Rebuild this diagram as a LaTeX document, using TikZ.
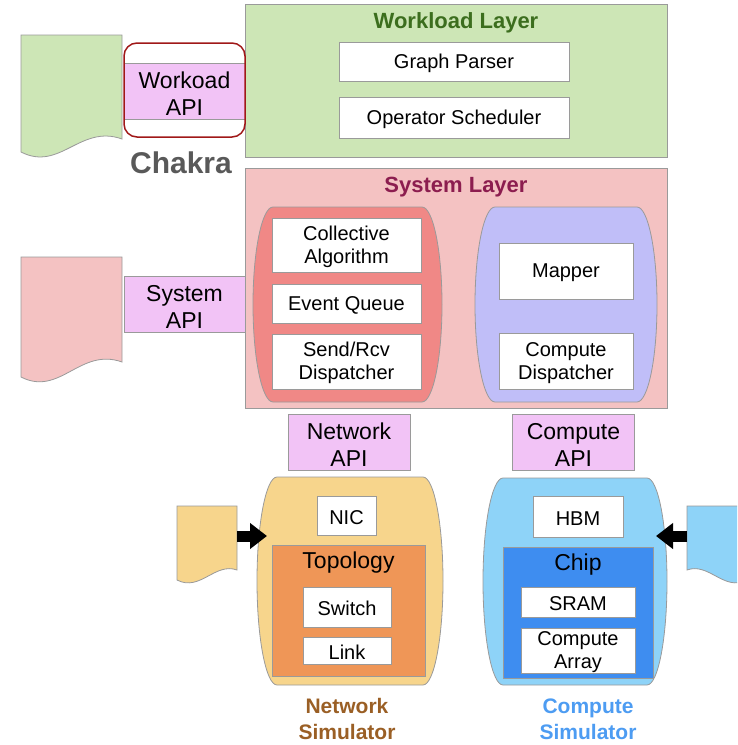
\documentclass[tikz,border=0pt]{standalone}
\usepackage{fontspec}
\setmainfont{Liberation Sans}
\usetikzlibrary{arrows.meta}

\definecolor{edgegray}{HTML}{9A9A9A}
\definecolor{wlgreen}{HTML}{CDE6B6}
\definecolor{wltitle}{HTML}{3C6E1E}
\definecolor{apipink}{HTML}{F2C3F6}
\definecolor{syspink}{HTML}{F4C2C2}
\definecolor{systitle}{HTML}{8C1D4F}
\definecolor{collred}{HTML}{F08886}
\definecolor{mapblue}{HTML}{C0BEF8}
\definecolor{netyellow}{HTML}{F7D58C}
\definecolor{topoorange}{HTML}{EF9657}
\definecolor{compblue}{HTML}{8ED3F8}
\definecolor{chipblue}{HTML}{3E8DF0}
\definecolor{nettitle}{HTML}{9A5F25}
\definecolor{comptitle}{HTML}{4D9CF2}
\definecolor{chakrared}{HTML}{A01818}
\definecolor{chakragray}{HTML}{595959}

\tikzset{
  every node/.style={inner sep=0pt, align=center},
  plain/.style={draw=edgegray, line width=0.8pt},
  whitebox/.style={plain, fill=white, font=\fontsize{20}{23}\selectfont, text height=18pt},
  whiteboxtwo/.style={plain, fill=white, font=\fontsize{20}{23}\selectfont, text height=41pt},
  apiband/.style={plain, fill=apipink, font=\fontsize{23}{27}\selectfont, text height=48pt},
  layertitle/.style={font=\fontsize{22}{26}\selectfont\bfseries, text height=20pt},
  simtitle/.style={font=\fontsize{21}{26}\selectfont\bfseries},
  grouplabel/.style={font=\fontsize{23}{27}\selectfont, text height=21pt},
  fatarrow/.style={line width=11pt, -{Triangle[length=17pt,width=25pt]}},
}

% barrel-shaped container: style, x1, y1, x2, y2, name of its centre
\newcommand{\barrelshape}[6]{%
  \draw[plain,#1] ({#2+20},#3) -- ({#4-20},#3)
    .. controls ({#4-9},#3) and (#4,{(#3+#5)/2-0.276*(#5-#3)}) .. (#4,{(#3+#5)/2})
    .. controls (#4,{(#3+#5)/2+0.276*(#5-#3)}) and ({#4-9},#5) .. ({#4-20},#5)
    -- ({#2+20},#5)
    .. controls ({#2+9},#5) and (#2,{(#3+#5)/2+0.276*(#5-#3)}) .. (#2,{(#3+#5)/2})
    .. controls (#2,{(#3+#5)/2-0.276*(#5-#3)}) and ({#2+9},#3) .. cycle;
  \coordinate (#6) at ({(#2+#4)/2},{(#3+#5)/2});}

\begin{document}
\begin{tikzpicture}[x=1pt, y=-1pt]
\useasboundingbox (0,0) rectangle (737,745);
\clip (0,0) rectangle (737,745);

% ---------- document shapes on the left / right ----------
\draw[plain, fill=wlgreen] (122,139) -- (122,35) -- (21,35) -- (21,152)
  .. controls (60,172) and (80,124) .. cycle;
\coordinate (wldoc) at (122,91);
\draw[plain, fill=syspink] (122,362) -- (122,257) -- (21,257) -- (21,377)
  .. controls (60,397) and (80,347) .. cycle;
\coordinate (sysdoc) at (122,304);
\draw[plain, fill=netyellow] (237,570) -- (237,506) -- (177,506) -- (177,580)
  .. controls (200,592) and (215,562) .. cycle;
\coordinate (netdoc) at (237,536);
\draw[plain, fill=compblue] (687,570) -- (687,506) -- (747,506) -- (747,580)
  .. controls (724,592) and (709,562) .. cycle;
\coordinate (compdoc) at (687,536);

% ---------- workload layer ----------
\node[plain, fill=wlgreen, minimum width=422pt, minimum height=153pt] (wl) at (456,80.5) {};
\node[layertitle, text=wltitle] (wltitle) at (456,21) {Workload Layer};
\node[whitebox, minimum width=230pt, minimum height=39pt] (gp) at (454,61.5) {Graph Parser};
\node[whitebox, minimum width=230pt, minimum height=41pt] (os) at (454,117.5) {Operator Scheduler};

\node[apiband, minimum width=121pt, minimum height=56pt] (wlapi) at (184.5,91) {Workoad\\API};
\node[draw=chakrared, line width=1.5pt, rounded corners=13pt,
      minimum width=121pt, minimum height=94pt] (chakrabox) at (184.5,90) {};
\node[font=\fontsize{30}{32}\selectfont\bfseries, text=chakragray] (chakra) at (181,163) {Chakra};

% ---------- system layer ----------
\node[plain, fill=syspink, minimum width=422pt, minimum height=240pt] (sys) at (456,288) {};
\node[layertitle, text=systitle] (systitle) at (456,185) {System Layer};
\barrelshape{fill=collred}{253}{207}{442}{402}{collgroup}
\barrelshape{fill=mapblue}{475}{207}{657}{402}{mapgroup}
\node[whiteboxtwo, minimum width=149pt, minimum height=54pt] (coll) at (346.5,245) {Collective\\Algorithm};
\node[whitebox, minimum width=149pt, minimum height=39pt] (eq) at (346.5,303.5) {Event Queue};
\node[whiteboxtwo, minimum width=149pt, minimum height=55pt] (sr) at (346.5,361.5) {Send/Rcv\\Dispatcher};
\node[whitebox, minimum width=134pt, minimum height=56pt] (mapper) at (566,271) {Mapper};
\node[whiteboxtwo, minimum width=134pt, minimum height=56pt] (cd) at (566,361) {Compute\\Dispatcher};

\node[apiband, minimum width=121pt, minimum height=56pt] (sysapi) at (184.5,304.5) {System\\API};

% ---------- APIs below the system layer ----------
\node[apiband, minimum width=122pt, minimum height=56pt] (netapi) at (349,442) {Network\\API};
\node[apiband, minimum width=122pt, minimum height=56pt] (compapi) at (573.5,442) {Compute\\API};

% ---------- network simulator ----------
\barrelshape{fill=netyellow}{257}{477}{443}{685}{netsim}
\node[whitebox, minimum width=59pt, minimum height=39pt] (nic) at (346.5,515.5) {NIC};
\node[plain, fill=topoorange, minimum width=153pt, minimum height=131pt] (topo) at (348.5,610.5) {};
\node[grouplabel] (topolabel) at (348.5,560) {Topology};
\node[whitebox, minimum width=88pt, minimum height=40pt] (switch) at (347,607) {Switch};
\node[whitebox, minimum width=88pt, minimum height=27pt] (link) at (347,650.5) {Link};
\node[simtitle, text=nettitle] (nettitle) at (347,719) {Network\\Simulator};

% ---------- compute simulator ----------
\barrelshape{fill=compblue}{483}{478}{667}{685}{compsim}
\node[whitebox, minimum width=90pt, minimum height=41pt] (hbm) at (578,516.5) {HBM};
\node[plain, fill=chipblue, minimum width=150pt, minimum height=131pt] (chip) at (578,612.5) {};
\node[grouplabel] (chiplabel) at (578,562) {Chip};
\node[whitebox, minimum width=114pt, minimum height=30pt] (sram) at (578,602) {SRAM};
\node[whiteboxtwo, minimum width=114pt, minimum height=43pt] (carray) at (578,650.5) {Compute\\Array};
\node[simtitle, text=comptitle] (comptitle) at (588,719) {Compute\\Simulator};

% ---------- input arrows ----------
\coordinate (netin) at (267,536);
\coordinate (compin) at (656,536);
\draw[fatarrow] (netdoc) -- (netin);
\draw[fatarrow] (compdoc) -- (compin);
\end{tikzpicture}
\end{document}
